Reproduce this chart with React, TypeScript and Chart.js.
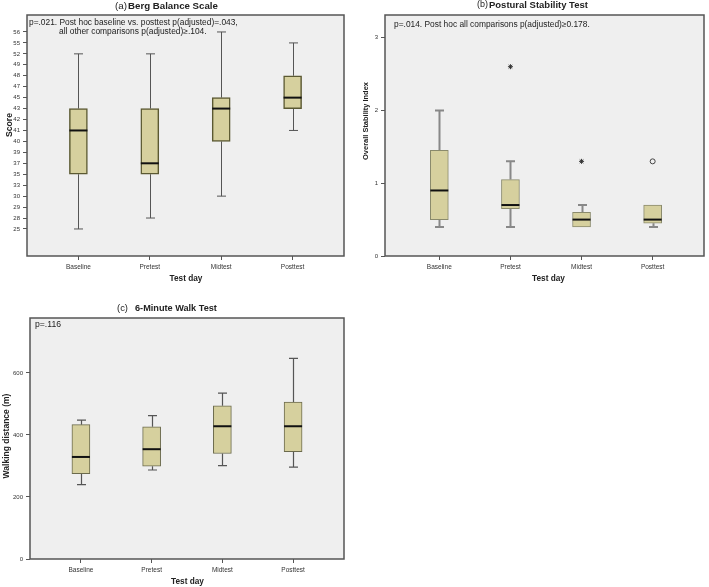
import React, { useEffect, useRef } from 'react';
import { Chart, registerables } from 'chart.js';

Chart.register(...registerables);

const categories = ['Baseline', 'Pretest', 'Midtest', 'Posttest'];

// (a) Berg Balance Scale – ordinal score axis
const bergTickLabels = [25, 28, 29, 30, 33, 35, 37, 39, 40, 41, 42, 43, 45, 47, 48, 49, 52, 55, 56];
const bergMin = [25, 28, 30, 41];
const bergQ1 = [35, 35, 40, 43];
const bergMedian = [41, 37, 43, 45];
const bergQ3 = [43, 43, 45, 48];
const bergMax = [52, 52, 56, 55];

// (b) Postural Stability Test
const psTicks = [0, 1, 2, 3];
const psMin = [0.4, 0.4, 0.4, 0.4];
const psQ1 = [0.5, 0.65, 0.4, 0.45];
const psMedian = [0.9, 0.7, 0.5, 0.5];
const psQ3 = [1.45, 1.05, 0.6, 0.7];
const psMax = [2.0, 1.3, 0.7, 0.7];
const psExtremeDay = [1, 2];
const psExtremeValue = [2.6, 1.3];
const psOutlierDay = [3];
const psOutlierValue = [1.3];

// (c) 6-Minute Walk Test
const walkTicks = [0, 200, 400, 600];
const walkMin = [240, 287, 301, 296];
const walkQ1 = [275, 299, 340, 346];
const walkMedian = [329, 354, 428, 428];
const walkQ3 = [433, 426, 494, 506];
const walkMax = [448, 462, 535, 647];

const FONT = '"Liberation Sans", Arial, sans-serif';

type TextItem = {
  text: string; x: number; y: number; w: number; weight: string;
  align: 'left' | 'center'; rotate?: boolean;
};

type Panel = {
  left: number; top: number; width: number; height: number;
  chartLeft: number; chartTop: number; chartRight: number; chartBottom: number;
  xMin: number; xMax: number;
  yMin: number; yMax: number; yTicks: number[]; yLabel: (v: number) => string;
  mins: number[]; q1: number[]; med: number[]; q3: number[]; maxs: number[];
  stars: { x: number; y: number }[]; circles: { x: number; y: number }[];
  boxBorder: string; boxBorderWidth: number; whiskerColor: string; whiskerWidth: number;
  texts: TextItem[];
};

const bIdx = (v: number) => bergTickLabels.indexOf(v);

const panels: Panel[] = [
  {
    left: 0, top: 0, width: 355, height: 290,
    chartLeft: 27, chartTop: 15, chartRight: 344, chartBottom: 256,
    xMin: -0.72, xMax: 3.72,
    yMin: -2.47, yMax: 19.55, yTicks: bergTickLabels.map((_, i) => i), yLabel: (v) => String(bergTickLabels[v]),
    mins: bergMin.map(bIdx), q1: bergQ1.map(bIdx), med: bergMedian.map(bIdx), q3: bergQ3.map(bIdx), maxs: bergMax.map(bIdx),
    stars: [], circles: [],
    boxBorder: '#5b5932', boxBorderWidth: 1.5, whiskerColor: '#555', whiskerWidth: 1,
    texts: [
      { text: '(a)', x: 115, y: 6, w: 12, weight: 'normal', align: 'left' },
      { text: 'Berg Balance Scale', x: 128, y: 6, w: 90, weight: 'bold', align: 'left' },
      { text: 'p=.021. Post hoc baseline vs. posttest p(adjusted)=.043,', x: 29, y: 23, w: 209, weight: 'normal', align: 'left' },
      { text: 'all other comparisons p(adjusted)\u2265.104.', x: 59, y: 32, w: 148, weight: 'normal', align: 'left' },
      { text: 'Test day', x: 186, y: 279, w: 33, weight: 'bold', align: 'center' },
      { text: 'Score', x: 10, y: 125, w: 24, weight: 'bold', align: 'center', rotate: true },
    ],
  },
  {
    left: 355, top: 0, width: 354, height: 290,
    chartLeft: 385, chartTop: 15, chartRight: 708, chartBottom: 256,
    xMin: -0.764, xMax: 3.722,
    yMin: 0, yMax: 3.31, yTicks: psTicks, yLabel: (v) => String(v),
    mins: psMin, q1: psQ1, med: psMedian, q3: psQ3, maxs: psMax,
    stars: psExtremeDay.map((d, i) => ({ x: d, y: psExtremeValue[i] })),
    circles: psOutlierDay.map((d, i) => ({ x: d, y: psOutlierValue[i] })),
    boxBorder: '#8a8a6c', boxBorderWidth: 1, whiskerColor: '#888', whiskerWidth: 2,
    texts: [
      { text: '(b)', x: 477, y: 5, w: 11, weight: 'normal', align: 'left' },
      { text: 'Postural Stability Test', x: 489, y: 5, w: 99, weight: 'bold', align: 'left' },
      { text: 'p=.014. Post hoc all comparisons p(adjusted)\u22650.178.', x: 394, y: 25, w: 196, weight: 'normal', align: 'left' },
      { text: 'Test day', x: 548.5, y: 279, w: 33, weight: 'bold', align: 'center' },
      { text: 'Overall Stability Index', x: 366, y: 121, w: 78, weight: 'bold', align: 'center', rotate: true },
    ],
  },
  {
    left: 0, top: 290, width: 355, height: 297,
    chartLeft: 30, chartTop: 318, chartRight: 344, chartBottom: 559,
    xMin: -0.72, xMax: 3.72,
    yMin: 0, yMax: 777, yTicks: walkTicks, yLabel: (v) => String(v),
    mins: walkMin, q1: walkQ1, med: walkMedian, q3: walkQ3, maxs: walkMax,
    stars: [], circles: [],
    boxBorder: '#6b6a4c', boxBorderWidth: 1, whiskerColor: '#555', whiskerWidth: 1.2,
    texts: [
      { text: '(c)', x: 117, y: 308, w: 11, weight: 'normal', align: 'left' },
      { text: '6-Minute Walk Test', x: 135, y: 308, w: 82, weight: 'bold', align: 'left' },
      { text: 'p=.116', x: 35, y: 325, w: 26, weight: 'normal', align: 'left' },
      { text: 'Test day', x: 187.5, y: 582, w: 33, weight: 'bold', align: 'center' },
      { text: 'Walking distance (m)', x: 7, y: 436, w: 85, weight: 'bold', align: 'center', rotate: true },
    ],
  },
];

function drawFitText(ctx: CanvasRenderingContext2D, t: TextItem) {
  ctx.save();
  ctx.font = `${t.weight} 10px ${FONT}`;
  const w = ctx.measureText(t.text).width;
  const size = (10 * t.w) / w;
  ctx.font = `${t.weight} ${size}px ${FONT}`;
  ctx.fillStyle = '#222';
  ctx.textBaseline = 'middle';
  ctx.textAlign = t.align;
  if (t.rotate) {
    ctx.translate(t.x, t.y);
    ctx.rotate(-Math.PI / 2);
    ctx.fillText(t.text, 0, 0);
  } else {
    ctx.fillText(t.text, t.x, t.y);
  }
  ctx.restore();
}

function makeChart(canvas: HTMLCanvasElement, p: Panel) {
  const boxPlugin = {
    id: 'boxDecor',
    beforeDraw(chart: any) {
      const { ctx, chartArea: a } = chart;
      ctx.save();
      ctx.fillStyle = '#efefef';
      ctx.fillRect(a.left, a.top, a.right - a.left, a.bottom - a.top);
      ctx.restore();
    },
    beforeDatasetsDraw(chart: any) {
      const { ctx } = chart;
      const xs = chart.scales.x;
      const ys = chart.scales.y;
      ctx.save();
      ctx.strokeStyle = p.whiskerColor;
      ctx.lineWidth = p.whiskerWidth;
      for (let i = 0; i < categories.length; i++) {
        const x = Math.round(xs.getPixelForValue(i)) + 0.5;
        const yMax = ys.getPixelForValue(p.maxs[i]);
        const yQ3 = ys.getPixelForValue(p.q3[i]);
        const yQ1 = ys.getPixelForValue(p.q1[i]);
        const yMin = ys.getPixelForValue(p.mins[i]);
        ctx.beginPath();
        if (p.maxs[i] > p.q3[i]) {
          ctx.moveTo(x, yQ3); ctx.lineTo(x, yMax);
          ctx.moveTo(x - 4.5, yMax); ctx.lineTo(x + 4.5, yMax);
        }
        if (p.mins[i] < p.q1[i]) {
          ctx.moveTo(x, yQ1); ctx.lineTo(x, yMin);
          ctx.moveTo(x - 4.5, yMin); ctx.lineTo(x + 4.5, yMin);
        }
        ctx.stroke();
      }
      ctx.restore();
    },
    afterDatasetsDraw(chart: any) {
      const { ctx } = chart;
      const xs = chart.scales.x;
      const ys = chart.scales.y;
      ctx.save();
      ctx.strokeStyle = '#111';
      ctx.lineWidth = 2;
      for (let i = 0; i < categories.length; i++) {
        const x = xs.getPixelForValue(i);
        const y = ys.getPixelForValue(p.med[i]);
        ctx.beginPath();
        ctx.moveTo(x - 9, y); ctx.lineTo(x + 9, y);
        ctx.stroke();
      }
      ctx.restore();
    },
    afterDraw(chart: any) {
      const { ctx, chartArea: a } = chart;
      ctx.save();
      ctx.strokeStyle = '#555';
      ctx.lineWidth = 1.5;
      ctx.strokeRect(a.left, a.top, a.right - a.left, a.bottom - a.top);
      ctx.translate(-p.left, -p.top);
      p.texts.forEach((t) => drawFitText(ctx, t));
      ctx.restore();
    },
  };

  const yW = p.chartLeft - p.left;
  const xH = p.top + p.height - p.chartBottom;

  return new Chart(canvas, {
    type: 'bar',
    data: {
      datasets: [
        {
          type: 'bar',
          data: categories.map((_, i) => ({ x: i, y: [p.q1[i], p.q3[i]] })) as any,
          backgroundColor: '#d6d09e',
          borderColor: p.boxBorder,
          borderWidth: p.boxBorderWidth,
          borderSkipped: false,
          barThickness: 18,
        } as any,
        {
          type: 'scatter',
          data: p.stars,
          pointStyle: 'star',
          radius: 2.5,
          borderColor: '#333',
          borderWidth: 1,
        } as any,
        {
          type: 'scatter',
          data: p.circles,
          pointStyle: 'circle',
          radius: 2.5,
          backgroundColor: '#efefef',
          borderColor: '#444',
          borderWidth: 1,
        } as any,
      ],
    },
    options: {
      animation: false,
      responsive: false,
      maintainAspectRatio: false,
      layout: {
        padding: {
          left: 0,
          top: p.chartTop - p.top,
          right: p.left + p.width - p.chartRight,
          bottom: 0,
        },
      },
      plugins: {
        legend: { display: false },
        tooltip: { enabled: false },
        title: { display: false },
      },
      scales: {
        x: {
          type: 'linear',
          offset: false,
          min: p.xMin,
          max: p.xMax,
          afterBuildTicks: (s: any) => { s.ticks = categories.map((_, i) => ({ value: i })); },
          afterFit: (s: any) => { s.height = xH; },
          ticks: {
            callback: (v: any) => categories[v] ?? '',
            font: { family: FONT, size: 6.5 },
            color: '#333',
            padding: 3,
            autoSkip: false,
            maxRotation: 0,
          },
          grid: { offset: false, drawOnChartArea: false, drawTicks: true, tickLength: 4, color: '#555' },
          border: { display: false },
        },
        y: {
          type: 'linear',
          min: p.yMin,
          max: p.yMax,
          afterBuildTicks: (s: any) => { s.ticks = p.yTicks.map((v) => ({ value: v })); },
          afterFit: (s: any) => { s.width = yW; },
          ticks: {
            callback: (v: any) => p.yLabel(v),
            font: { family: FONT, size: 6 },
            color: '#333',
            padding: 3,
            autoSkip: false,
          },
          grid: { drawOnChartArea: false, drawTicks: true, tickLength: 4, color: '#555' },
          border: { display: false },
        },
      },
    } as any,
    plugins: [boxPlugin],
  });
}

function PanelChart({ p }: { p: Panel }) {
  const ref = useRef<HTMLCanvasElement>(null);
  useEffect(() => {
    if (!ref.current) return;
    const c = makeChart(ref.current, p);
    return () => c.destroy();
  }, [p]);
  return (
    <canvas
      ref={ref}
      width={p.width}
      height={p.height}
      style={{ position: 'absolute', left: p.left, top: p.top, width: p.width, height: p.height }}
    />
  );
}

export default function App() {
  return (
    <div style={{ position: 'fixed', left: 0, top: 0, width: 709, height: 587, background: '#fff' }}>
      {panels.map((p, i) => (
        <PanelChart key={i} p={p} />
      ))}
    </div>
  );
}
